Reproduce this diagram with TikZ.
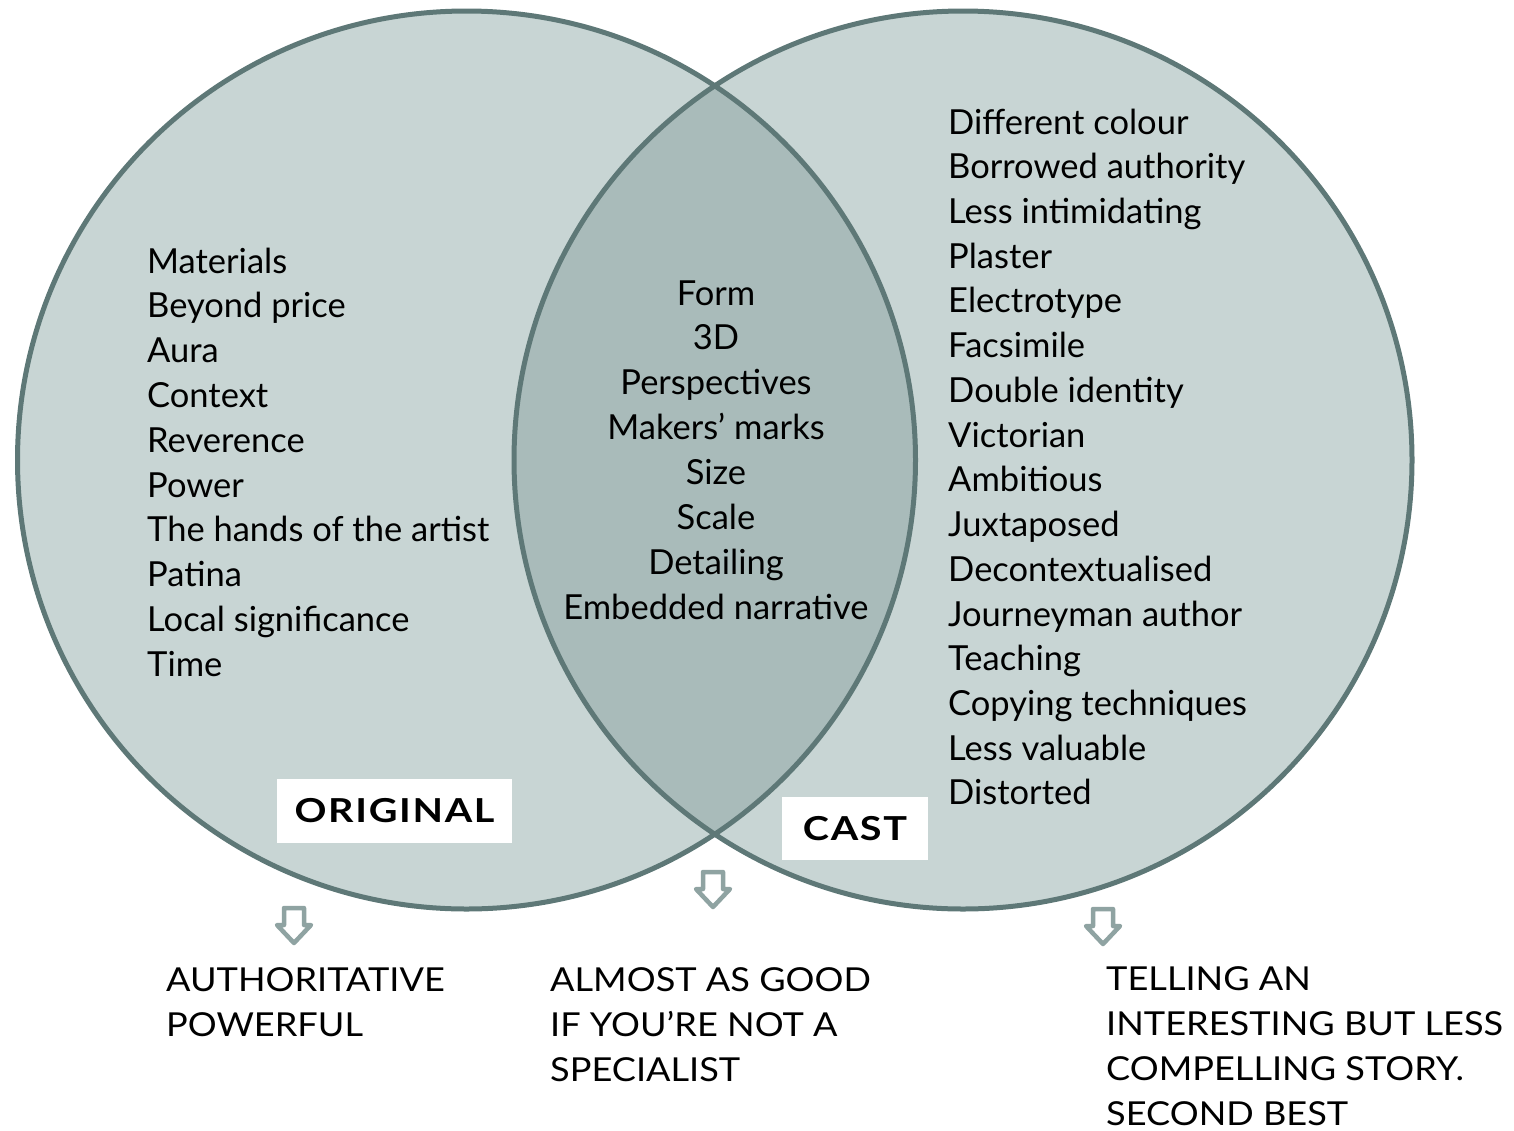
\documentclass[tikz,border=0pt]{standalone}
\usepackage{fontspec}
\setmainfont{Lato}
\newfontfamily\capsfont[FakeStretch=1.095]{Lato}
\newfontfamily\tagfont[FakeStretch=1.2,LetterSpace=5]{Lato}
\usetikzlibrary{positioning}
\definecolor{ringfill}{HTML}{C8D5D4}
\definecolor{lensfill}{HTML}{A9BBBA}
\definecolor{ringline}{HTML}{5E7877}
\definecolor{arrowline}{HTML}{8FA3A2}

\begin{document}
\begin{tikzpicture}[x=1pt,y=-1pt]
\tikzstyle{word}=[inner sep=0pt, anchor=base west, font=\fontsize{34.5}{44.8}\selectfont];
\tikzstyle{midword}=[word, anchor=base];
\tikzstyle{tag}=[fill=white, inner sep=0pt, font=\tagfont\fontsize{33}{40}\selectfont\bfseries];
\tikzstyle{verdict}=[word, align=left, font=\capsfont\fontsize{33}{45}\selectfont];
\useasboundingbox (0,0) rectangle (1514,1130);
% the two sets and their overlap
\fill [ringfill] (466.5,460) circle (449);
\fill [ringfill] (963,460) circle (449);
\begin{scope}
\clip (466.5,460) circle (449);
\fill [lensfill] (963,460) circle (449);
\end{scope}
\draw [ringline, line width=5pt] (466.5,460) circle (449)
(963,460) circle (449);
% words in each part
\foreach \w [count=\i] in {Materials, Beyond price, Aura, Context, Reverence, Power, The hands of the artist, Patina, Local significance, Time}
\node [word] (orig\i) at (147,273+44.8*\i-44.8) {\w};
\foreach \w [count=\i] in {Form, 3D, Perspectives, Makers’ marks, Size, Scale, Detailing, Embedded narrative}
\node [midword] (both\i) at (716,305+44.86*\i-44.86) {\w};
\foreach \w [count=\i] in {Different colour, Borrowed authority, Less intimidating, Plaster, Electrotype, Facsimile, Double identity, Victorian, Ambitious, Juxtaposed, Decontextualised, Journeyman author, Teaching, Copying techniques, Less valuable, Distorted}
\node [word] (cast\i) at (948,134+44.73*\i-44.73) {\w};
% labels
\node [tag, minimum width=235, minimum height=64] (origlabel) at (394.5,811) {ORIGINAL};
\node [tag, minimum width=146, minimum height=63] (castlabel) at (855,828.5) {CAST};
% hollow arrows
\foreach \ax/\ay in {294/908, 713/872, 1103/909}
\draw [arrowline, fill=white, line width=4.5pt, line join=round]
(\ax-10,\ay) -- (\ax+10,\ay) -- (\ax+10,\ay+17) -- (\ax+17,\ay+17)
-- (\ax,\ay+35) -- (\ax-17,\ay+17) -- (\ax-10,\ay+17) -- cycle;
% what each part adds up to (anchored on the last line)
\node [verdict] (origsum) at (166,1036) {AUTHORITATIVE\\POWERFUL};
\node [verdict] (bothsum) at (550,1081) {ALMOST AS GOOD\\IF YOU’RE NOT A\\SPECIALIST};
\node [verdict] (castsum) at (1106,1125) {TELLING AN\\INTERESTING BUT LESS\\COMPELLING STORY.\\SECOND BEST};
\end{tikzpicture}
\end{document}
